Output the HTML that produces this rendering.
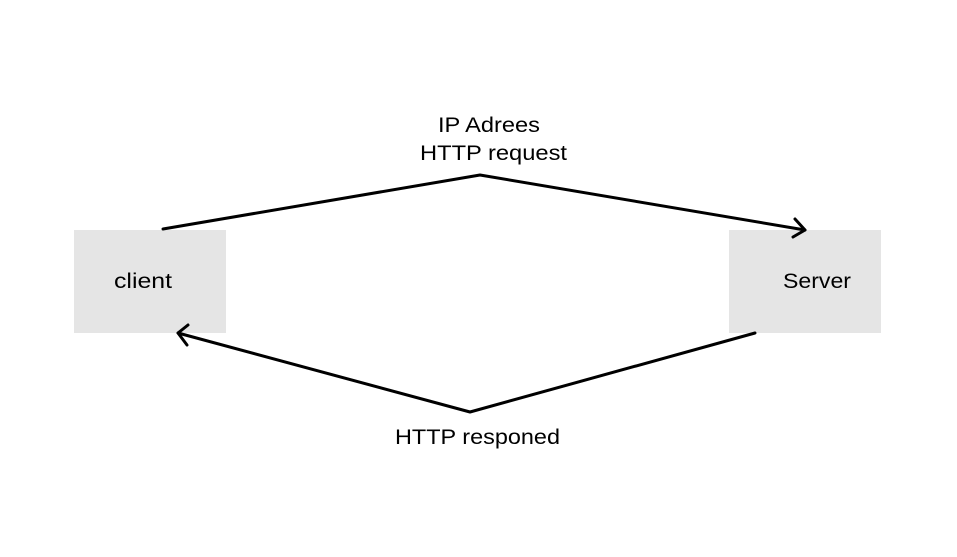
<!DOCTYPE html>
<html><head><style>
body{margin:0;background:#fff;}
svg{display:block}
text{font-family:"Liberation Sans",sans-serif;font-size:21px;fill:#000}
</style></head><body>
<svg width="957" height="557" viewBox="0 0 957 557">
<rect x="74" y="230" width="152" height="103" fill="#e5e5e5"/>
<rect x="729" y="230" width="152" height="103" fill="#e5e5e5"/>
<text x="114" y="288" textLength="58" lengthAdjust="spacingAndGlyphs">client</text>
<text x="783" y="288" textLength="68" lengthAdjust="spacingAndGlyphs">Server</text>
<text x="438" y="132" textLength="102" lengthAdjust="spacingAndGlyphs">IP Adrees</text>
<text x="420" y="160" textLength="147" lengthAdjust="spacingAndGlyphs">HTTP request</text>
<text x="395" y="444" textLength="165" lengthAdjust="spacingAndGlyphs">HTTP responed</text>
<g stroke="#000" stroke-width="3" fill="none" stroke-linecap="round" stroke-linejoin="round">
<polyline points="163,229 480,175 805,230"/>
<polyline points="795,219 805,230 793,237"/>
<polyline points="755,333 470,412 178,333"/>
<polyline points="188,325 178,333 187,345"/>
</g>
</svg>
</body></html>
